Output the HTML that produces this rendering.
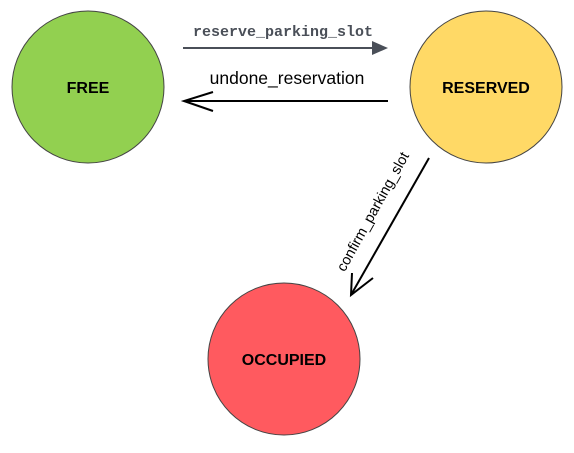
<!DOCTYPE html>
<html><head><style>body{margin:0;background:#fff}</style></head><body>
<svg width="574" height="448" xmlns="http://www.w3.org/2000/svg">
<rect width="574" height="448" fill="#fff"/>
<circle cx="88" cy="87" r="76" fill="#92d050" stroke="#444" stroke-width="1"/>
<circle cx="486" cy="87" r="76" fill="#ffd966" stroke="#444" stroke-width="1"/>
<circle cx="284" cy="359" r="76" fill="#ff5a5f" stroke="#444" stroke-width="1"/>
<g font-family="Liberation Sans, sans-serif" font-weight="bold" font-size="16" text-anchor="middle" fill="#000">
<text x="88" y="93">FREE</text>
<text x="486" y="93">RESERVED</text>
<text x="284" y="365">OCCUPIED</text>
</g>
<text x="283" y="36" font-family="Liberation Mono, monospace" font-weight="bold" font-size="15" fill="#4a4f58" text-anchor="middle">reserve_parking_slot</text>
<line x1="183" y1="48" x2="376" y2="48" stroke="#4a4f58" stroke-width="2"/>
<polygon points="388,48 372,41 372,55" fill="#4a4f58"/>
<text x="287" y="84" font-family="Liberation Sans, sans-serif" font-size="17.5" fill="#000" text-anchor="middle">undone_reservation</text>
<line x1="388" y1="101" x2="184" y2="101" stroke="#000" stroke-width="2"/>
<polyline points="213,92 184,101 213,111" fill="none" stroke="#000" stroke-width="2"/>
<line x1="429" y1="158" x2="351" y2="295" stroke="#000" stroke-width="2"/>
<polyline points="352,273 351,295 373,278" fill="none" stroke="#000" stroke-width="2"/>
<text transform="translate(377,214) rotate(-61)" font-family="Liberation Sans, sans-serif" font-size="14.5" fill="#000" text-anchor="middle">confirm_parking_slot</text>
</svg>
</body></html>
